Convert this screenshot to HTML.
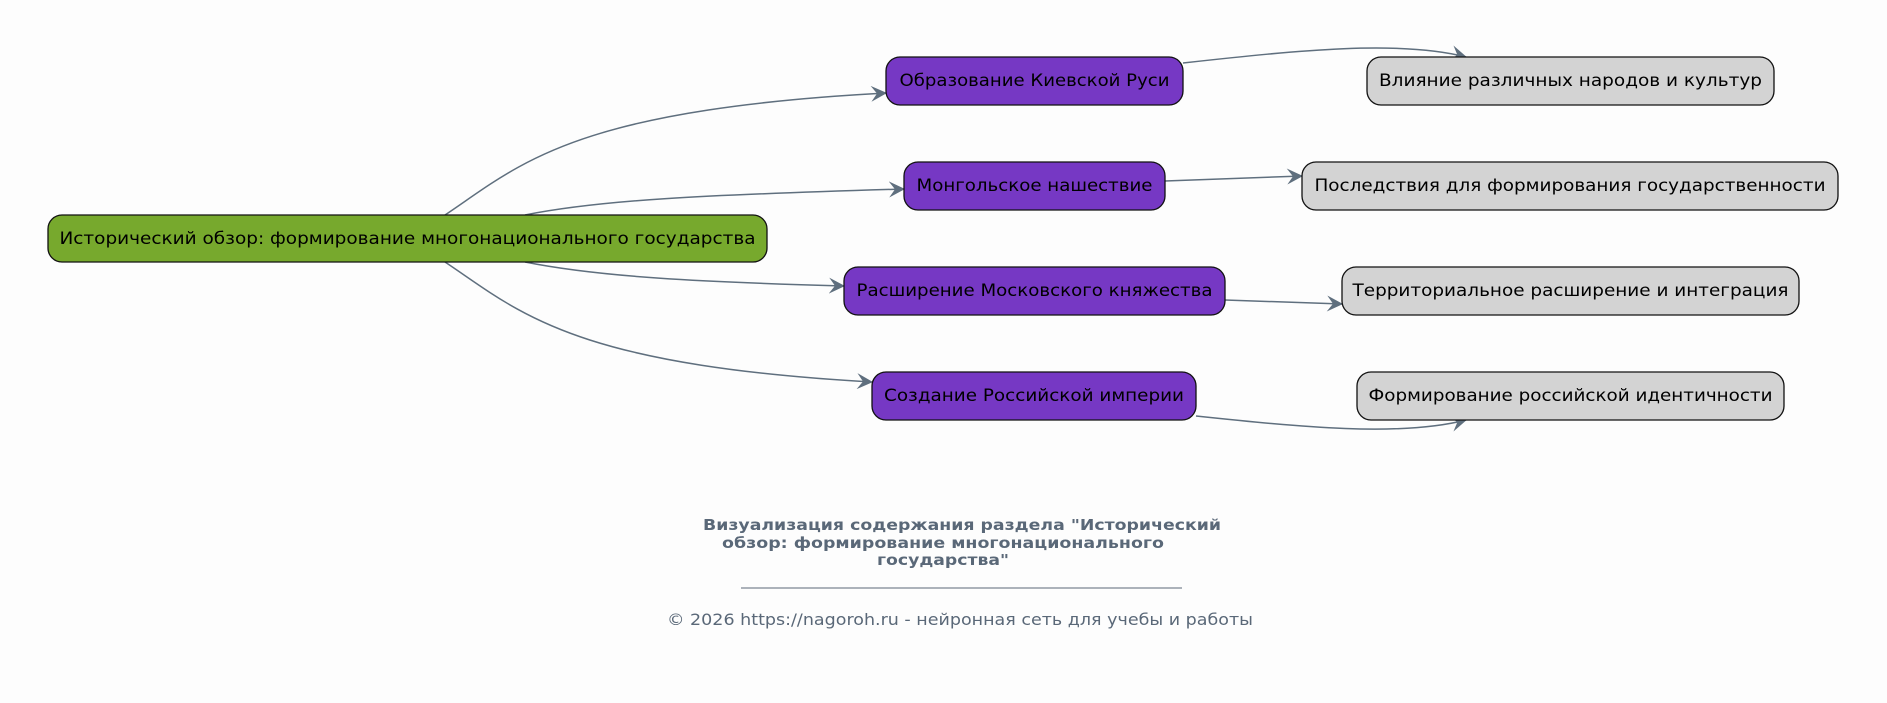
<!DOCTYPE html>
<html><head><meta charset="utf-8"><style>
html,body{margin:0;padding:0;background:#fdfdfd;}
svg{display:block;}
text{font-family:"DejaVu Sans","Liberation Sans",sans-serif;}
</style></head><body>
<svg width="1887" height="703" viewBox="0 0 1887 703" xmlns="http://www.w3.org/2000/svg">
<defs>
<marker id="a" markerWidth="18" markerHeight="16" refX="15" refY="8" orient="auto" markerUnits="userSpaceOnUse">
<path d="M0,0 L16,8 L0,16 L6,8 Z" fill="#5f6f7e"/>
</marker>
</defs>
<rect width="1887" height="703" fill="#fdfdfd"/>
<g fill="none" stroke="#5f6f7e" stroke-width="1.5">
<path d="M445,215 C520,165 570,110 886,93" marker-end="url(#a)"/>
<path d="M525,215 C600,200 700,195 904,189" marker-end="url(#a)"/>
<path d="M525,262 C600,277 700,282 844,286" marker-end="url(#a)"/>
<path d="M445,262 C520,312 570,365 872,382" marker-end="url(#a)"/>
<path d="M1183,63 C1300,50 1400,40 1466,57" marker-end="url(#a)"/>
<path d="M1165,181 L1302,176" marker-end="url(#a)"/>
<path d="M1225,300 L1342,304" marker-end="url(#a)"/>
<path d="M1196,416 C1300,427 1400,437 1466,420" marker-end="url(#a)"/>
</g>
<g stroke="#111" stroke-width="1.3">
<rect x="48" y="215" width="719" height="47" rx="14" fill="#77a92d"/>
<rect x="886" y="57" width="297" height="48" rx="14" fill="#7638c4"/>
<rect x="904" y="162" width="261" height="48" rx="14" fill="#7638c4"/>
<rect x="844" y="267" width="381" height="48" rx="14" fill="#7638c4"/>
<rect x="872" y="372" width="324" height="48" rx="14" fill="#7638c4"/>
<rect x="1367" y="57" width="407" height="48" rx="14" fill="#d3d3d3"/>
<rect x="1302" y="162" width="536" height="48" rx="14" fill="#d3d3d3"/>
<rect x="1342" y="267" width="457" height="48" rx="14" fill="#d3d3d3"/>
<rect x="1357" y="372" width="427" height="48" rx="14" fill="#d3d3d3"/>
</g>
<g font-size="17" fill="#000" text-anchor="middle">
<text x="407.5" y="244" textLength="696" lengthAdjust="spacingAndGlyphs">Исторический обзор: формирование многонационального государства</text>
<text x="1034.5" y="86" textLength="270" lengthAdjust="spacingAndGlyphs">Образование Киевской Руси</text>
<text x="1034.5" y="191" textLength="236" lengthAdjust="spacingAndGlyphs">Монгольское нашествие</text>
<text x="1034.5" y="296" textLength="356" lengthAdjust="spacingAndGlyphs">Расширение Московского княжества</text>
<text x="1034" y="401" textLength="300" lengthAdjust="spacingAndGlyphs">Создание Российской империи</text>
<text x="1570.5" y="86" textLength="383" lengthAdjust="spacingAndGlyphs">Влияние различных народов и культур</text>
<text x="1570" y="191" textLength="511" lengthAdjust="spacingAndGlyphs">Последствия для формирования государственности</text>
<text x="1570.5" y="296" textLength="436" lengthAdjust="spacingAndGlyphs">Территориальное расширение и интеграция</text>
<text x="1570.5" y="401" textLength="404" lengthAdjust="spacingAndGlyphs">Формирование российской идентичности</text>
</g>
<g font-size="15" font-weight="bold" fill="#5a6878" text-anchor="middle">
<text x="962" y="530" textLength="518" lengthAdjust="spacingAndGlyphs">Визуализация содержания раздела "Исторический</text>
<text x="943" y="548" textLength="442" lengthAdjust="spacingAndGlyphs">обзор: формирование многонационального</text>
<text x="943" y="565" textLength="132" lengthAdjust="spacingAndGlyphs">государства"</text>
</g>
<line x1="741" y1="588" x2="1182" y2="588" stroke="#5a6878" stroke-width="1"/>
<text x="960" y="625" font-size="16" fill="#5a6878" text-anchor="middle" textLength="586" lengthAdjust="spacingAndGlyphs">© 2026 https://nagoroh.ru - нейронная сеть для учебы и работы</text>
</svg>
</body></html>
